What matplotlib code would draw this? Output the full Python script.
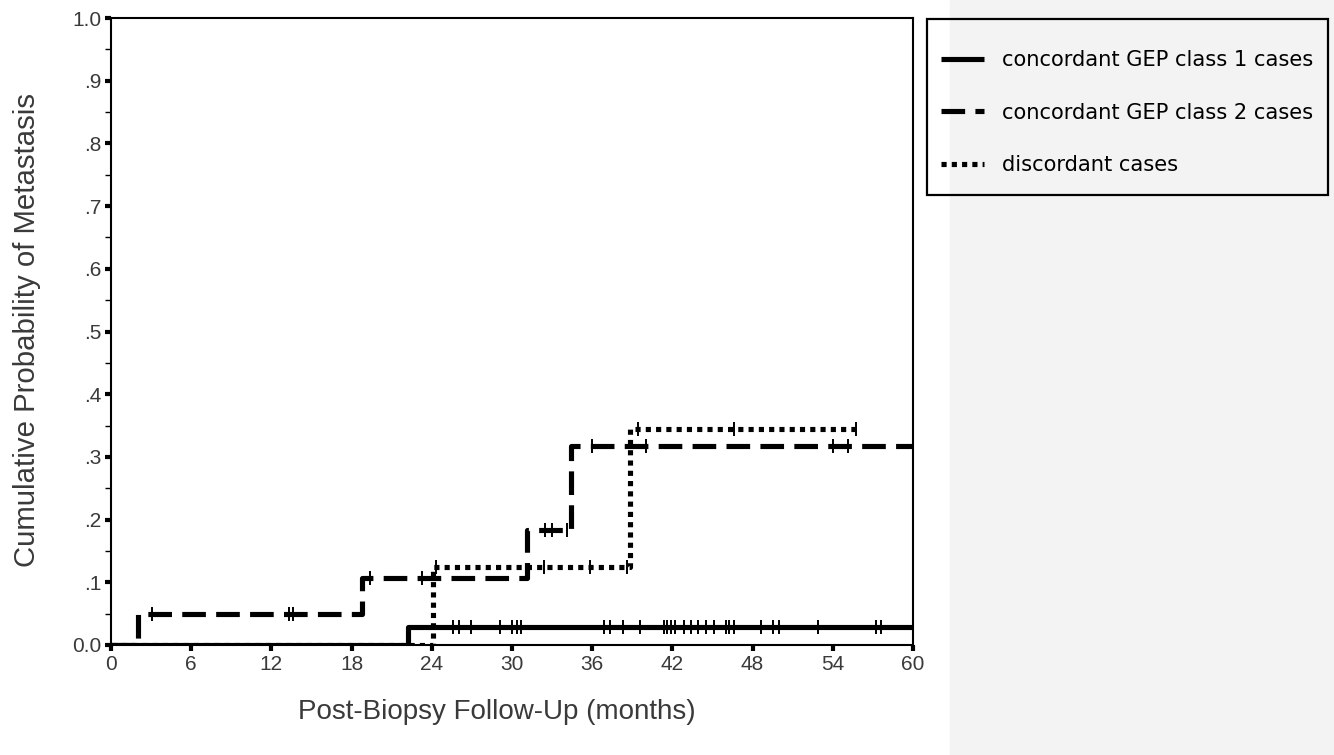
import matplotlib.pyplot as plt
import matplotlib.patches as mpatches
from matplotlib.lines import Line2D
import numpy as np

# Kaplan-Meier style step data (months, cumulative probability)
class1_t = [0, 22.2, 60]
class1_p = [0.0, 0.028, 0.028]
class1_cens = [25.6, 26.0, 26.9, 29.1, 30.0, 30.4, 30.7, 36.9, 37.3, 38.3, 39.6,
               41.4, 41.6, 41.9, 42.2, 42.9, 43.4, 43.9, 44.5, 45.1, 46.0, 46.2,
               46.6, 48.6, 49.5, 50.0, 52.9, 57.2, 57.6]

class2_t = [0, 2.0, 18.8, 31.1, 34.4, 60]
class2_p = [0.0, 0.049, 0.107, 0.183, 0.318, 0.318]
class2_cens = [3.1, 13.3, 13.6, 19.4, 23.3, 32.5, 33.0, 34.1, 36.0, 40.0, 54.0, 55.1]

disc_t = [0, 24.1, 38.8, 55.9]
disc_p = [0.0, 0.124, 0.345, 0.345]
disc_cens = [24.3, 32.4, 35.8, 38.6, 39.4, 46.6, 55.7]

labels = ['concordant GEP class 1 cases', 'concordant GEP class 2 cases', 'discordant cases']
xticks = list(range(0, 61, 6))
yticks = [0.0, 0.1, 0.2, 0.3, 0.4, 0.5, 0.6, 0.7, 0.8, 0.9, 1.0]
ytick_labels = ['0.0', '.1', '.2', '.3', '.4', '.5', '.6', '.7', '.8', '.9', '1.0']

W, H = 1334, 755
fig = plt.figure(figsize=(W / 100, H / 100), dpi=100)

# light gray panel on the right
fig.patches.append(mpatches.Rectangle((950 / W, 0), 1 - 950 / W, 1,
                                      transform=fig.transFigure, color='#f3f3f3', zorder=0))

ax = fig.add_axes([111 / W, 1 - 645 / H, (913 - 111) / W, (645 - 18) / H])

series = [(class1_t, class1_p, class1_cens), (class2_t, class2_p, class2_cens),
          (disc_t, disc_p, disc_cens)]
lss = ['-', (0, (4.6, 2.0)), (0, (1.0, 1.0))]
LW = 3.7

for (t, p, cens), ls in zip(series, lss):
    ax.step(t, p, where='post', color='black', lw=LW, ls=ls, solid_capstyle='butt',
            dash_capstyle='butt')
    # step value at censor times
    cy = [p[np.searchsorted(t, c, side='right') - 1] for c in cens]
    ax.plot(cens, cy, ls='none', marker='|', ms=10, mew=1.4, color='black')

ax.set_xlim(0, 60)
ax.set_ylim(0, 1.0)
ax.set_xticks(xticks)
ax.set_yticks(yticks)
ax.set_yticklabels(ytick_labels)
ax.set_yticks(np.arange(0.05, 1.0, 0.1), minor=True)
ax.tick_params(axis='both', which='major', length=4, width=3, direction='out',
               labelsize=15, colors='black', pad=3)
ax.tick_params(axis='y', which='minor', length=4, width=1)
for lab in ax.get_xticklabels() + ax.get_yticklabels():
    lab.set_fontfamily('Liberation Sans')
    lab.set_color('#3a3a3a')
for s in ax.spines.values():
    s.set_linewidth(1.5)

fig.text(497 / W, 1 - 712 / H, 'Post-Biopsy Follow-Up (months)', ha='center', va='center',
         fontsize=20, family='Liberation Sans', color='#3a3a3a')
fig.text(27 / W, 1 - 330 / H, 'Cumulative Probability of Metastasis', ha='center',
         va='center', rotation=90, fontsize=21.2, family='Liberation Sans', color='#3a3a3a')

# legend box drawn separately, legend entries without frame
fig.patches.append(mpatches.Rectangle((927 / W, 1 - 195 / H), (1328 - 927) / W, (195 - 19) / H,
                                      transform=fig.transFigure, fill=False,
                                      edgecolor='black', lw=1.6, zorder=3))
handles = [Line2D([], [], color='black', lw=LW, ls=ls, solid_capstyle='butt',
                  dash_capstyle='butt') for ls in lss]
leg = fig.legend(handles, labels, loc='upper left', bbox_to_anchor=(941 / W, 1 - 50 / H),
                 frameon=False, handlelength=2.05, labelspacing=1.55, borderpad=0,
                 borderaxespad=0, handletextpad=0.85,
                 prop={'family': 'DejaVu Sans', 'size': 15.1})

fig.savefig('out.png', dpi=100)
